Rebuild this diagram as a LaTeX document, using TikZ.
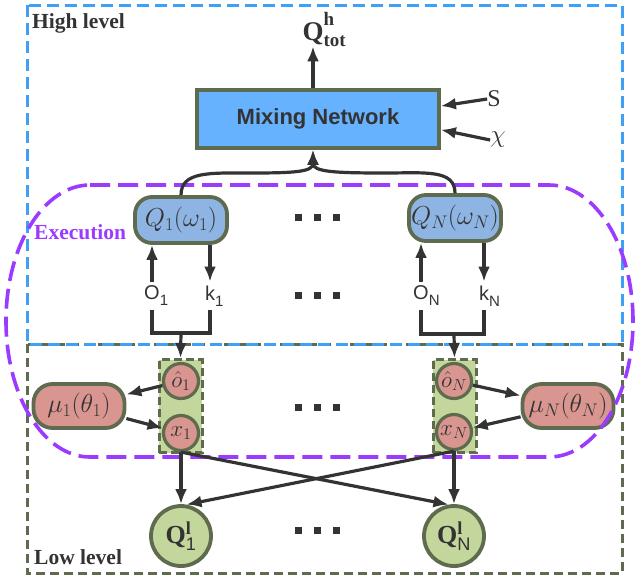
\RequirePackage{fix-cm}
\documentclass[tikz,border=0pt]{standalone}
\usepackage{amsmath}
\usepackage[no-math]{fontspec}
\setmainfont{Liberation Serif}
\newfontfamily\arialf{Liberation Sans}
\usetikzlibrary{arrows.meta,calc}
\definecolor{hiblue}{HTML}{3FA0F5}
\definecolor{bordc}{HTML}{5E6B4E}
\definecolor{purp}{HTML}{9B3BFF}
\definecolor{mixfill}{HTML}{66B2FF}
\definecolor{qfill}{HTML}{8EB4E3}
\definecolor{pinkf}{HTML}{D9958F}
\definecolor{greenf}{HTML}{C3D69B}
\definecolor{arrc}{HTML}{333333}
\begin{document}
\begin{tikzpicture}[x=1pt,y=-1pt,
  every node/.style={inner sep=0pt,text=arrc},
  arr/.style={draw=arrc,line width=3.2pt,-{Latex[length=15pt,width=12pt]}},
  ln/.style={draw=arrc,line width=3.2pt},
  mixbox/.style={draw=bordc,line width=3.8pt,fill=mixfill,minimum width=242pt,minimum height=58pt,font=\fontsize{22}{22}\selectfont\arialf\bfseries},
  qbox/.style={draw=bordc,line width=3.8pt,fill=qfill,rounded corners=17pt,minimum width=92pt,minimum height=46pt,font=\fontsize{26}{26}\selectfont},
  mubox/.style={draw=bordc,line width=3.8pt,fill=pinkf,rounded corners=19pt,minimum width=91pt,minimum height=44pt,font=\fontsize{26}{26}\selectfont},
  pcirc/.style={circle,draw=bordc,line width=3.2pt,fill=pinkf,minimum size=35pt,font=\fontsize{23}{23}\selectfont},
  gbox/.style={draw=bordc,line width=3pt,dash pattern=on 8pt off 4pt,fill=greenf,minimum width=43pt,minimum height=93pt},
  lcirc/.style={circle,draw=bordc,line width=3.8pt,fill=greenf,minimum size=60pt},
  lab/.style={font=\fontsize{20}{20}\selectfont\arialf,inner ysep=4pt},
  ttl/.style={anchor=west,font=\fontsize{21.5}{21.5}\selectfont\bfseries},
  hibox/.style={draw=hiblue,line width=3pt,dash pattern=on 12pt off 6pt},
  lobox/.style={draw=bordc,line width=3pt,dash pattern=on 9pt off 5pt},
  purpline/.style={draw=purp,line width=3.6pt,dash pattern=on 20pt off 8pt}
]
\useasboundingbox (0,0) rectangle (636,581);

% level boxes
\draw[lobox] (27,344) rectangle (622,573);
\draw[hibox] (27,5) rectangle (622,344);
\node[ttl] (hl) at (32,23) {High level};
\node[ttl] (ll) at (34,557) {Low level};

% mixing network
\node[mixbox] (mix) at (318,119) {Mixing Network};
\node[anchor=base] (Qh) at (313,40) {\bfseries\fontsize{27}{27}\selectfont Q\rlap{\raisebox{15pt}{\fontsize{19}{19}\selectfont h}}\rlap{\raisebox{-6pt}{\fontsize{19}{19}\selectfont tot}}};
\node (S) at (494,99) {\fontsize{24}{24}\selectfont S};
\node (chi) at (498,140) {\fontsize{25}{25}\selectfont $\chi$};

% agent Q nodes
\node[qbox] (Q1) at (181,220) {$Q_1(\omega_1)$};
\node[qbox] (QN) at (455,218) {$Q_N(\omega_N)$};
\node[ttl,text=purp] (exe) at (34,232) {Execution};

% O / k labels
\node[lab] (O1) at (152,296) {O\rlap{\raisebox{-6pt}{\fontsize{15}{15}\selectfont 1}}};
\node[lab] (k1) at (210,296) {k\rlap{\raisebox{-6pt}{\fontsize{15}{15}\selectfont 1}}};
\node[lab] (ON) at (421,296) {O\rlap{\raisebox{-6pt}{\fontsize{15}{15}\selectfont N}}};
\node[lab] (kN) at (484,296) {k\rlap{\raisebox{-6pt}{\fontsize{15}{15}\selectfont N}}};
\coordinate (J1) at (181,333);
\coordinate (JN) at (454,334);

% low level
\node[gbox] (g1) at (180.5,406) {};
\node[gbox] (gN) at (454.5,406) {};
\node[pcirc] (oh1) at (181,381) {$\hat{o}_1$};
\node[pcirc] (x1) at (181,433) {$x_1$};
\node[pcirc] (ohN) at (454,381) {$\hat{o}_N$};
\node[pcirc] (xN) at (454,432) {$x_N$};
\node[mubox] (mu1) at (79,406) {$\mu_1(\theta_1)$};
\node[mubox] (muN) at (568,406) {$\mu_N(\theta_N)$};
\node[lcirc] (Ql1) at (181,536) {\fontsize{26}{26}\selectfont\bfseries Q$\vphantom{\text{Q}}^{\text{l}}_{\text{\arialf\mdseries 1}}$};
\node[lcirc] (QlN) at (454,536) {\fontsize{26}{26}\selectfont\bfseries Q$\vphantom{\text{Q}}^{\text{l}}_{\text{\arialf\mdseries N}}$};

% dots
\foreach \yy in {217,295,407,530}
  \foreach \xx in {298,317,336}
    \fill[arrc] (\xx-3.5,\yy-3.5) rectangle ++(7,7);

% execution region
\draw[purpline] (90,185) -- (549,185)
  arc[start angle=-90,end angle=90,x radius=84,y radius=136]
  -- (90,457)
  arc[start angle=90,end angle=270,x radius=84,y radius=136] -- cycle;

% connectors high level
\draw[arr] (mix.north -| Qh) -- (Qh.south);
\draw[arr] (S.west) -- (mix.6);
\draw[arr] (chi.west) -- (mix.-5);
\draw[arr] (Q1.north) .. controls +(0,-24) and +(-40,0) .. (250,173)
  .. controls +(45,0) and +(0,22) .. (mix.south -| Qh);
\draw[arr] (QN.north) .. controls +(0,-24) and +(40,0) .. (385,173)
  .. controls +(-50,0) and +(0,22) .. (mix.south -| Qh);

% O / k loops
\draw[arr] (O1.north) -- (Q1.south -| O1);
\draw[arr] (Q1.south -| k1) -- (k1.north);
\draw[ln] (O1.south) -- (O1.south |- J1) -- (k1.south |- J1) -- (k1.south);
\draw[arr] (J1) -- (g1.north);
\draw[arr] (ON.north) -- (QN.south -| ON);
\draw[arr] (QN.south -| kN) -- (kN.north);
\draw[ln] (ON.south) -- (ON.south |- JN) -- (kN.south |- JN) -- (kN.south);
\draw[arr] (JN) -- (gN.north);

% low level connectors
\draw[arr] (oh1) -- (mu1);
\draw[arr] (mu1) -- (x1);
\draw[arr] (ohN) -- (muN);
\draw[arr] (muN) -- (xN);
\draw[arr] (x1.south) -- (Ql1.north);
\draw[arr] (xN.south) -- (QlN.north);
\draw[arr] (x1.south) -- (QlN.100);
\draw[arr] (xN.south) -- (Ql1.80);
\end{tikzpicture}
\end{document}
